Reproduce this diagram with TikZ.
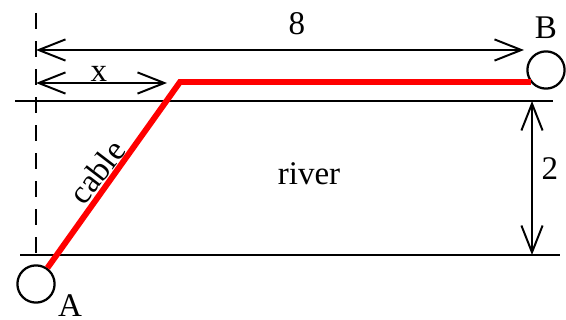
\documentclass[tikz,border=0pt]{standalone}
\usepackage{fontspec}
\setmainfont{Liberation Serif}
\usetikzlibrary{arrows.meta}

\begin{document}
\begin{tikzpicture}[x=0.025cm,y=-0.025cm,
  bank/.style={line width=1.6pt},
  dim/.style={line width=1.4pt,{Straight Barb[length=0.67cm,width=0.53cm]}-{Straight Barb[length=0.67cm,width=0.53cm]}},
  lbl/.style={font=\fontsize{23.5}{24}\selectfont,anchor=base,inner sep=0pt},
  post/.style={circle,draw,line width=1.6pt,minimum size=0.93cm,inner sep=0pt},
  cable/.style={red,line width=4.2pt}]
  \useasboundingbox (0,0) rectangle (566,320);
  % River banks and the reference line through A.
  \coordinate (nw) at (15,101);
  \coordinate (ne) at (553,101);
  \coordinate (sw) at (20,255);
  \coordinate (se) at (560,255);
  \draw[bank] (nw)--(ne);
  \draw[bank] (sw)--(se);
  \coordinate (top) at (36,13);
  \coordinate (foot) at (36,255);
  \draw[bank,dash pattern=on 0.4cm off 0.3cm] (top)--(foot);
  % Posts at both ends and the laid cable.
  \node[post] (A) at (36,284) {};
  \node[post] (B) at (546,70) {};
  \coordinate (bend) at (180,82);
  \draw[cable] (A)--(bend)--(bend -| B.220);
  % Dimensions.
  \coordinate (w0) at (36,50);
  \coordinate (w1) at (524,50);
  \coordinate (x0) at (36,83);
  \coordinate (x1) at (167,83);
  \coordinate (h0) at (532,101);
  \coordinate (h1) at (532,255);
  \draw[dim] (w0)--(w1);
  \draw[dim] (x0)--(x1);
  \draw[dim] (h0)--(h1);
  \node[lbl] (eight) at (297,35) {8};
  \node[lbl] (xlab) at (99,82) {x};
  \node[lbl] (two) at (550,180) {2};
  \node[lbl] (river) at (309,185) {river};
  \node[lbl] (Blab) at (546,39) {B};
  \node[lbl] (Alab) at (70,317) {A};
  \node[lbl,anchor=center,rotate=52.5] (cablelab) at (97,172) {cable};
\end{tikzpicture}
\end{document}
